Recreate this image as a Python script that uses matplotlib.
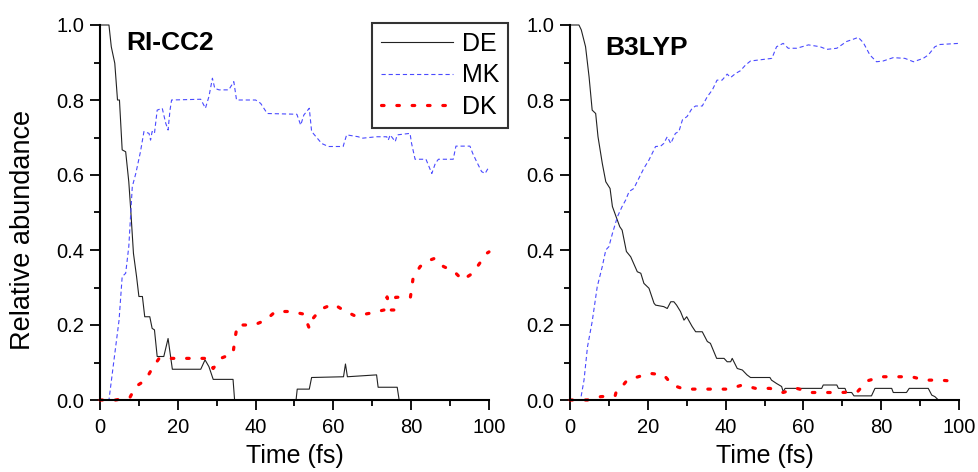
import matplotlib
matplotlib.use("Agg")
import matplotlib.pyplot as plt
from matplotlib.ticker import MultipleLocator, FormatStrFormatter

plt.rcParams['font.family'] = ['Liberation Sans', 'DejaVu Sans']

# ---- data (time in fs, relative abundance) ----
# RI-CC2
cc2_de_t = [0, 2.3, 2.9, 3.8, 4.5, 5.0, 5.7, 6.6, 7.4, 7.9, 8.6, 9.4, 10.0, 10.9,
            11.5, 12.8, 13.4, 14.0, 14.7, 16.4, 17.5, 18.6, 25.9, 27.0, 28.0, 29.1,
            34.2, 34.6, 50.4, 50.7, 53.8, 54.4, 62.6, 63.1, 63.6, 71.1, 71.5, 76.4,
            76.9, 100]
cc2_de_v = [1.0, 1.0, 0.942, 0.898, 0.8, 0.8, 0.667, 0.662, 0.582, 0.507, 0.391, 0.329, 0.276, 0.276,
            0.222, 0.222, 0.191, 0.187, 0.116, 0.116, 0.164, 0.082, 0.082, 0.107, 0.089, 0.055,
            0.055, 0.0, 0.0, 0.029, 0.029, 0.06, 0.062, 0.096, 0.062, 0.067, 0.034, 0.034,
            0.0, 0.0]

cc2_mk_t = [0, 2.3, 3.6, 4.9, 5.7, 6.6, 7.4, 8.3, 9.2, 10.4, 11.3, 12.6, 13.0, 13.4,
            14.0, 14.7, 16.0, 16.9, 17.5, 18.0, 18.4, 25.9, 27.1, 28.0, 28.9, 29.5,
            30.6, 33.1, 34.4, 35.1, 40.0, 41.3, 43.0, 50.6, 51.6, 52.4, 53.8, 54.4,
            57.0, 58.7, 62.5, 63.4, 66.4, 67.3, 71.1, 73.7, 74.1, 74.6, 75.9, 76.4,
            79.7, 80.1, 81.0, 83.8, 85.3, 86.2, 87.0, 90.8, 91.5, 95.1, 95.8, 96.8,
            98.1, 99.0, 100]
cc2_mk_v = [0, 0, 0.107, 0.213, 0.329, 0.338, 0.409, 0.569, 0.604, 0.662, 0.716, 0.711, 0.693, 0.716,
            0.711, 0.773, 0.778, 0.738, 0.72, 0.773, 0.8, 0.802, 0.778, 0.809, 0.858, 0.831,
            0.827, 0.827, 0.849, 0.8, 0.8, 0.791, 0.764, 0.762, 0.733, 0.76, 0.778, 0.716,
            0.684, 0.676, 0.676, 0.707, 0.702, 0.698, 0.702, 0.702, 0.693, 0.707, 0.689, 0.707,
            0.711, 0.684, 0.642, 0.642, 0.604, 0.631, 0.642, 0.642, 0.677, 0.677, 0.658, 0.636,
            0.609, 0.604, 0.622]

cc2_dk_t = [0, 4.0, 7.7, 9.2, 11.7, 13.4, 15.2, 27.1, 29.1, 31.0, 34.2, 34.7, 35.3,
            39.6, 42.6, 45.1, 49.0, 52.4, 53.8, 54.8, 56.7, 60.0, 62.5, 65.6, 69.2,
            73.0, 73.8, 74.6, 75.6, 76.0, 79.8, 80.5, 82.3, 84.8, 86.1, 88.3, 91.1,
            93.2, 95.8, 97.7, 99.4, 100]
cc2_dk_v = [0, 0, 0.007, 0.036, 0.053, 0.084, 0.111, 0.111, 0.084, 0.111, 0.124, 0.164, 0.2,
            0.2, 0.213, 0.236, 0.236, 0.229, 0.191, 0.218, 0.242, 0.256, 0.24, 0.224, 0.231,
            0.24, 0.275, 0.24, 0.24, 0.274, 0.274, 0.326, 0.356, 0.373, 0.378, 0.356, 0.342,
            0.32, 0.338, 0.366, 0.391, 0.395]

# B3LYP
b3_de_t = [0, 2.3, 2.9, 4.0, 4.9, 5.7, 6.6, 7.2, 8.3, 9.2, 10.3, 10.9, 11.7, 12.8,
           13.4, 14.5, 15.6, 17.3, 18.2, 19.0, 20.3, 21.6, 22.0, 24.1, 25.0, 25.9,
           26.7, 27.4, 28.4, 29.3, 30.0, 31.4, 32.3, 34.0, 35.3, 36.1, 37.7, 39.6,
           40.4, 41.3, 41.7, 43.0, 44.3, 45.5, 46.4, 51.4, 51.8, 53.1, 54.4, 54.8,
           55.3, 64.7, 65.1, 68.6, 69.0, 70.7, 71.1, 72.4, 73.0, 77.5, 78.4, 82.7,
           83.1, 86.5, 87.2, 92.1, 93.0, 93.8, 94.7, 100]
b3_de_v = [1, 1, 0.987, 0.942, 0.862, 0.773, 0.764, 0.702, 0.631, 0.582, 0.564, 0.516, 0.493, 0.462,
           0.453, 0.396, 0.382, 0.342, 0.338, 0.311, 0.298, 0.258, 0.253, 0.249, 0.244, 0.262,
           0.262, 0.253, 0.236, 0.213, 0.222, 0.196, 0.182, 0.182, 0.156, 0.151, 0.111, 0.111,
           0.102, 0.102, 0.111, 0.084, 0.08, 0.067, 0.06, 0.06, 0.053, 0.044, 0.036, 0.022,
           0.031, 0.031, 0.04, 0.04, 0.031, 0.031, 0.02, 0.02, 0.011, 0.011, 0.031, 0.031,
           0.02, 0.02, 0.031, 0.031, 0.013, 0.009, 0.0, 0.0]

b3_mk_t = [0, 2.7, 3.6, 4.5, 5.7, 7.0, 8.3, 9.2, 10.0, 10.9, 12.2, 13.4, 14.3, 15.2,
           16.4, 17.5, 19.0, 20.3, 22.0, 23.3, 24.1, 25.0, 25.9, 27.1, 28.0, 28.9,
           30.1, 31.4, 32.3, 34.0, 35.3, 36.6, 37.8, 39.1, 40.4, 41.3, 42.6, 43.8,
           45.1, 46.4, 51.9, 53.1, 54.8, 56.1, 58.3, 61.3, 64.3, 66.0, 68.6, 71.1,
           72.8, 74.1, 75.4, 77.1, 78.8, 80.5, 83.1, 86.1, 88.3, 90.8, 92.1, 93.8,
           95.1, 100]
b3_mk_v = [0, 0, 0.053, 0.142, 0.209, 0.302, 0.356, 0.4, 0.409, 0.444, 0.489, 0.516, 0.533, 0.556,
           0.564, 0.587, 0.618, 0.64, 0.676, 0.677, 0.684, 0.702, 0.684, 0.711, 0.716, 0.747,
           0.756, 0.778, 0.784, 0.784, 0.809, 0.827, 0.853, 0.853, 0.869, 0.86, 0.871, 0.878,
           0.893, 0.904, 0.911, 0.942, 0.951, 0.938, 0.938, 0.947, 0.942, 0.935, 0.938, 0.956,
           0.962, 0.967, 0.953, 0.92, 0.902, 0.904, 0.913, 0.911, 0.902, 0.911, 0.92, 0.942,
           0.948, 0.951]

b3_dk_t = [0, 4.5, 7.9, 11.6, 12.0, 13.7, 14.7, 16.9, 20.5, 24.1, 26.3, 29.3, 40.8,
           44.3, 47.7, 51.4, 54.8, 58.3, 62.1, 69.8, 73.9, 76.4, 80.1, 87.8, 91.3,
           95.1, 100]
b3_dk_v = [0, 0, 0.009, 0.011, 0.027, 0.04, 0.053, 0.06, 0.071, 0.067, 0.04, 0.029, 0.029,
           0.04, 0.031, 0.031, 0.02, 0.031, 0.02, 0.02, 0.022, 0.051, 0.062, 0.062, 0.053,
           0.053, 0.049]

series_names = ['DE', 'MK', 'DK']
panel_titles = ['RI-CC2', 'B3LYP']
x_ticks = [0, 20, 40, 60, 80, 100]

panels = [
    (cc2_de_t, cc2_de_v, cc2_mk_t, cc2_mk_v, cc2_dk_t, cc2_dk_v),
    (b3_de_t, b3_de_v, b3_mk_t, b3_mk_v, b3_dk_t, b3_dk_v),
]

fig = plt.figure(figsize=(9.79, 4.72), dpi=100)
ax1 = fig.add_axes([100/979, 72/472, 389/979, 375/472])
ax2 = fig.add_axes([570/979, 72/472, 389/979, 375/472])
axes = [ax1, ax2]

title_pos = [(0.067, 0.933), (0.09, 0.92)]

for ax, data, title, tp in zip(axes, panels, panel_titles, title_pos):
    de_t, de_v, mk_t, mk_v, dk_t, dk_v = data
    ax.plot(de_t, de_v, color='#222222', lw=0.8, label=series_names[0],
            clip_on=False)
    ax.plot(mk_t, mk_v, color='#4a4aff', lw=0.8,
            linestyle=(0, (3.8, 2.6)), label=series_names[1], clip_on=False)
    ax.plot(dk_t, dk_v, color='#ff0000', lw=2.3, dash_capstyle='round',
            linestyle=(0, (0.8, 4.0)), label=series_names[2], clip_on=False)

    ax.set_xlim(0, 100)
    ax.set_ylim(0, 1.0)
    ax.set_xticks(x_ticks)
    ax.xaxis.set_minor_locator(MultipleLocator(10))
    ax.yaxis.set_major_locator(MultipleLocator(0.2))
    ax.yaxis.set_minor_locator(MultipleLocator(0.1))
    ax.yaxis.set_major_formatter(FormatStrFormatter('%.1f'))

    for s in ['top', 'right']:
        ax.spines[s].set_visible(False)
    for s in ['left', 'bottom']:
        ax.spines[s].set_linewidth(1.5)
        ax.spines[s].set_color('black')
    ax.tick_params(which='major', direction='out', length=7.5, width=1.3,
                   labelsize=14.5, pad=4)
    ax.tick_params(which='minor', direction='out', length=4.5, width=1.3)
    ax.tick_params(axis='x', which='major', pad=5.5)

    ax.text(tp[0], tp[1], title, transform=ax.transAxes, fontsize=19,
            fontweight='bold', va='baseline', ha='left')
    ax.text(0.5, -0.168, 'Time (fs)', transform=ax.transAxes, fontsize=18,
            va='baseline', ha='center')

fig.text(23/979, 1 - 230/472, 'Relative abundance', rotation=90,
         fontsize=19.5, ha='center', va='center')

leg = ax1.legend(loc='upper left', bbox_to_anchor=(0.699, 1.005),
                 borderaxespad=0, fontsize=18, handlelength=2.9,
                 handletextpad=0.35, labelspacing=0.3, borderpad=0.35,
                 fancybox=False, framealpha=1, edgecolor='#333333')
leg.get_frame().set_linewidth(1.5)
leg.set_zorder(5)

fig.savefig('out.png', dpi=100)
